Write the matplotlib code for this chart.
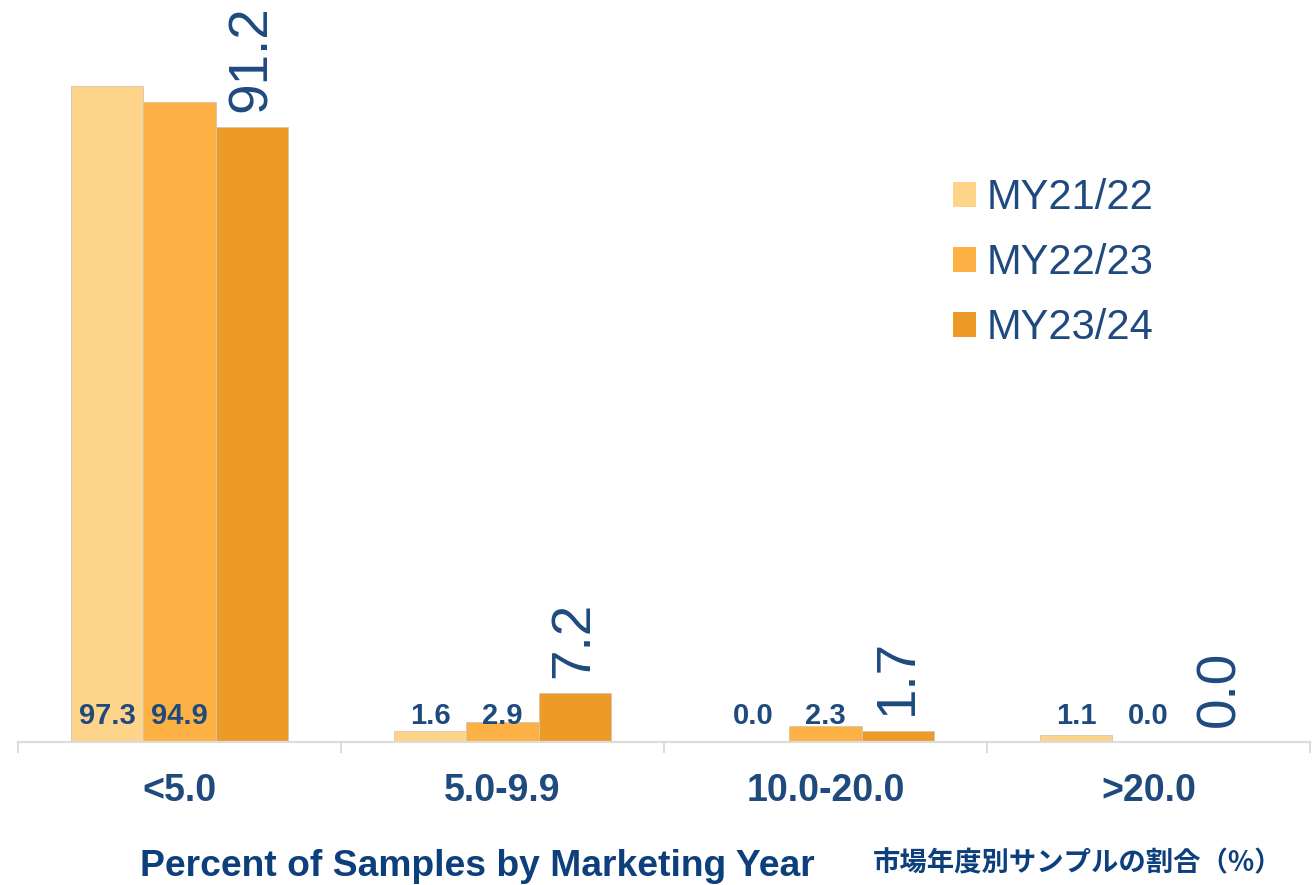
import matplotlib
matplotlib.use("Agg")
import matplotlib.pyplot as plt
from matplotlib.patches import Patch
import numpy as np

# Share of samples per concentration band, by marketing year
categories = ["<5.0", "5.0-9.9", "10.0-20.0", ">20.0"]
years = ["MY21/22", "MY22/23", "MY23/24"]
my2122 = [97.3, 1.6, 0.0, 1.1]
my2223 = [94.9, 2.9, 2.3, 0.0]
my2324 = [91.2, 7.2, 1.7, 0.0]

colors = ["#FED48B", "#FDB145", "#EC9B28"]
label_blue = "#1F4A7E"
title_blue = "#0D3F7C"

plt.rcParams["font.family"] = ["Liberation Sans", "DejaVu Sans"]

fig = plt.figure(figsize=(13.14, 8.85), dpi=100)
ax = fig.add_axes([18 / 1314, 1 - 742 / 885, (1310 - 18) / 1314, 742 / 885])

x = np.arange(len(categories))
width = 0.223
series = [my2122, my2223, my2324]
for i, (vals, col) in enumerate(zip(series, colors)):
    ax.bar(x + (i - 1) * width, vals, width, color=col,
           edgecolor="#D4C7B0", linewidth=0.6, label=years[i], zorder=2)

# small bold labels sit at a fixed height near the baseline
for i in range(2):
    for xi, v in zip(x, series[i]):
        ax.text(xi + (i - 1) * width, 2.6, f"{v:.1f}", ha="center", va="baseline",
                fontsize=21, fontweight="bold", color=label_blue, zorder=3)

# latest year gets large rotated labels above the bars
for xi, v in zip(x, my2324):
    ax.annotate(f"{v:.1f}", (xi + width, v), xytext=(0, 11), textcoords="offset points",
                ha="center", va="bottom", rotation=90, fontsize=39.5,
                color=label_blue, zorder=3)

ax.set_xlim(-0.5, 3.5)
ax.set_ylim(0, 110)
ax.set_yticks([])
for s in ["top", "right", "left"]:
    ax.spines[s].set_visible(False)
ax.spines["bottom"].set_color("#DCDCDC")
ax.spines["bottom"].set_linewidth(1.6)

ax.set_xticks(np.arange(-0.5, 4.0, 1.0))
ax.set_xticklabels([])
ax.tick_params(axis="x", direction="out", length=8, width=1.4, color="#DCDCDC")
ax.set_xticks(x, minor=True)
ax.set_xticklabels(categories, minor=True, fontsize=27, fontweight="bold", color=label_blue)
ax.tick_params(axis="x", which="minor", length=0, pad=22)

handles = [Patch(facecolor=c, edgecolor="none") for c in colors]
ax.legend(handles, years, loc="upper left", bbox_to_anchor=(953 / 1314, 1 - 178 / 885),
          bbox_transform=fig.transFigure, frameon=False, fontsize=30,
          handlelength=0.55, handleheight=0.55, handletextpad=0.25,
          labelspacing=0.6, borderpad=0, borderaxespad=0, labelcolor=label_blue)

fig.text(140 / 1314, 1 - 866 / 885, "Percent of Samples by Marketing Year", ha="left", va="center",
         fontsize=26.8, fontweight="bold", color=title_blue)
fig.text(873 / 1314, 1 - 863 / 885, "市場年度別サンプルの割合（%）", ha="left", va="center",
         fontsize=19.7, fontweight="bold", color=title_blue,
         family=["Noto Sans CJK JP", "DejaVu Sans"])

fig.savefig("out.png", dpi=100)
